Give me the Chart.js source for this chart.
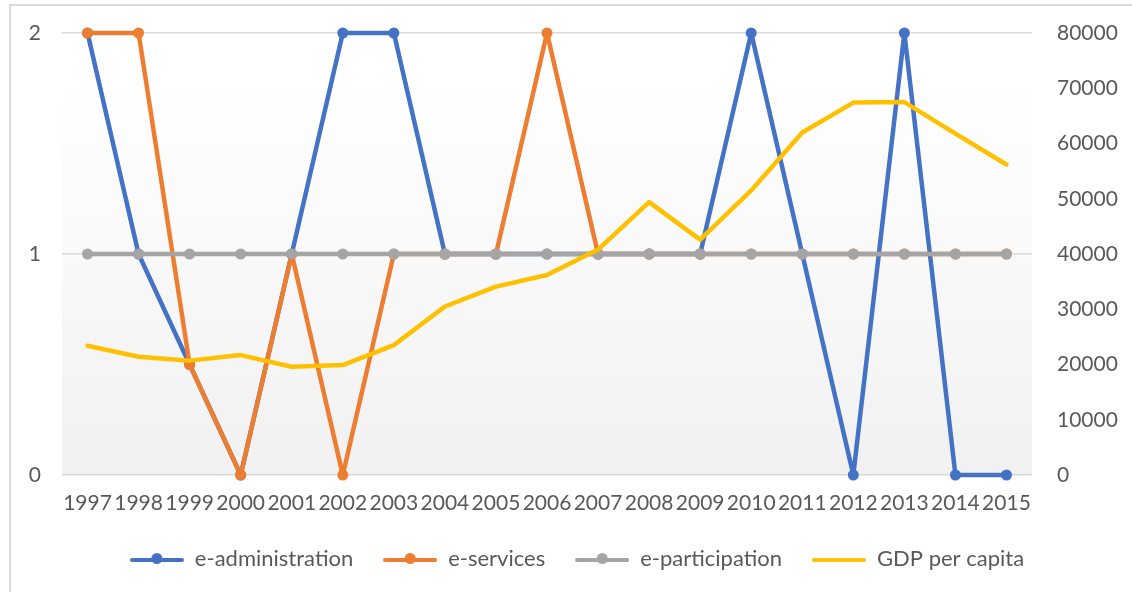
<!DOCTYPE html>
<html>
<head>
<meta charset="utf-8">
<script src="https://cdn.jsdelivr.net/npm/chart.js@4.4.1/dist/chart.umd.min.js"></script>
<style>
  html, body { margin: 0; padding: 0; background: #fff; }
  #frame { position: absolute; left: 0; top: 0; width: 1132px; height: 592px; }
  #border { position: absolute; left: 9px; top: 4px; width: 1123px; height: 588px; border-left: 2px solid #d9d9d9; border-top: 2px solid #d9d9d9; box-sizing: border-box; pointer-events: none; }
  #c { position: absolute; left: 0; top: 0; }
</style>
</head>
<body>
<div id="frame">
  <canvas id="c" width="1132" height="592"></canvas>
  <div id="border"></div>
</div>
<script>
const years = ['1997','1998','1999','2000','2001','2002','2003','2004','2005','2006','2007','2008','2009','2010','2011','2012','2013','2014','2015'];
const eAdministration = [2, 1, 0.5, 0, 1, 2, 2, 1, 1, 1, 1, 1, 1, 2, 1, 0, 2, 0, 0];
const eServices       = [2, 2, 0.5, 0, 1, 0, 1, 1, 1, 2, 1, 1, 1, 1, 1, 1, 1, 1, 1];
const eParticipation  = [1, 1, 1, 1, 1, 1, 1, 1, 1, 1, 1, 1, 1, 1, 1, 1, 1, 1, 1];
const gdpPerCapita    = [23400, 21400, 20700, 21700, 19600, 19900, 23500, 30500, 34100, 36200, 40800, 49400, 42600, 51500, 62000, 67400, 67500, 61800, 56200];
const leftTicks = [0, 1, 2];
const rightTicks = [0, 10000, 20000, 30000, 40000, 50000, 60000, 70000, 80000];

const FONT = 'Lato, "Open Sans", sans-serif';
const TXT = '#595959';

function legendIcon(color, dot) {
  const cv = document.createElement('canvas');
  cv.width = 54; cv.height = 14;
  const g = cv.getContext('2d');
  g.strokeStyle = color; g.lineWidth = 4; g.lineCap = 'round';
  g.beginPath(); g.moveTo(2, 8); g.lineTo(52, 8); g.stroke();
  if (dot) { g.fillStyle = color; g.beginPath(); g.arc(27, 6.5, 5.5, 0, Math.PI * 2); g.fill(); }
  return cv;
}

const bgPlugin = {
  id: 'plotBg',
  afterLayout(chart) {
    if (chart.legend) { chart.legend.left += 11; chart.legend.right += 11; }
  },
  beforeDraw(chart) {
    const a = chart.chartArea, ctx = chart.ctx;
    const gr = ctx.createLinearGradient(0, a.top, 0, a.bottom);
    gr.addColorStop(0, '#ffffff');
    gr.addColorStop(0.1, '#ffffff');
    gr.addColorStop(1, '#f1f1f1');
    ctx.save(); ctx.fillStyle = gr; ctx.fillRect(a.left, a.top, a.right - a.left, a.bottom - a.top); ctx.restore();
  }
};

function ds(label, data, color, order, axis, points) {
  return {
    label, data, borderColor: color, backgroundColor: color,
    borderWidth: 4.5, pointRadius: points ? 5.5 : 0, pointHoverRadius: points ? 5.5 : 0,
    pointBorderWidth: 0, pointBackgroundColor: color, tension: 0, order, yAxisID: axis,
    borderCapStyle: 'round', borderJoinStyle: 'round', clip: false,
    pointStyle: 'circle', legendIcon: legendIcon(color, points)
  };
}

function noPad(s) { s.paddingTop = 0; s.paddingBottom = 0; }

new Chart(document.getElementById('c'), {
  type: 'line',
  data: {
    labels: years,
    datasets: [
      ds('e-administration', eAdministration, '#4472C4', 4, 'y', true),
      ds('e-services', eServices, '#ED7D31', 3, 'y', true),
      ds('e-participation', eParticipation, '#A5A5A5', 2, 'y', true),
      ds('GDP per capita', gdpPerCapita, '#FFC000', 1, 'y2', false)
    ]
  },
  plugins: [bgPlugin],
  options: {
    responsive: false,
    animation: false,
    layout: { padding: { top: 33, bottom: 12, left: 0, right: 0 } },
    plugins: {
      tooltip: { enabled: false },
      legend: {
        position: 'bottom',
        labels: {
          usePointStyle: true,
          pointStyleWidth: 54,
          padding: 30,
          color: TXT,
          font: { family: FONT, size: 22 },
          sort: (a, b) => a.datasetIndex - b.datasetIndex,
          generateLabels(chart) {
            return chart.data.datasets.map((d, i) => ({
              text: d.label, datasetIndex: i, pointStyle: d.legendIcon,
              fillStyle: d.borderColor, strokeStyle: d.borderColor, lineWidth: 0, fontColor: TXT, hidden: false
            }));
          }
        }
      }
    },
    scales: {
      x: {
        offset: true,
        grid: { display: false, drawTicks: false },
        border: { display: false },
        ticks: { color: TXT, font: { family: FONT, size: 21 }, padding: 16, maxRotation: 0, autoSkip: false },
        afterFit(s) { s.height = 43; s.paddingLeft = 0; s.paddingRight = 0; }
      },
      y: {
        position: 'left', min: 0, max: 2,
        afterBuildTicks(s) { s.ticks = leftTicks.map(v => ({ value: v })); },
        grid: { color: '#d9d9d9', lineWidth: 1.5, drawTicks: false },
        border: { display: false },
        ticks: { color: TXT, font: { family: FONT, size: 21 }, padding: 21 },
        afterFit(s) { s.width = 62; noPad(s); }
      },
      y2: {
        position: 'right', min: 0, max: 80000,
        afterBuildTicks(s) { s.ticks = rightTicks.map(v => ({ value: v })); },
        grid: { display: false, drawTicks: false },
        border: { display: false },
        ticks: { color: TXT, font: { family: FONT, size: 21 }, padding: 25, callback: v => String(v) },
        afterFit(s) { s.width = 100; noPad(s); }
      }
    }
  }
});
</script>
</body>
</html>
